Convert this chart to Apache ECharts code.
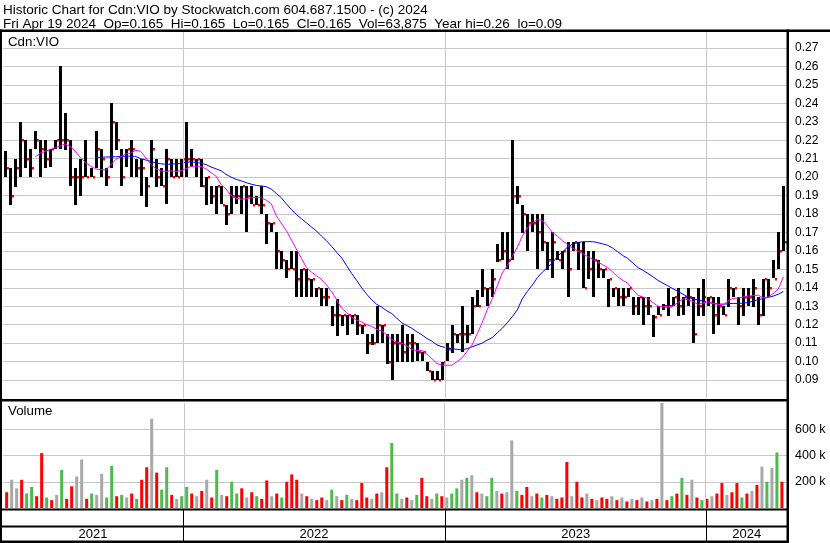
<!DOCTYPE html>
<html><head><meta charset="utf-8">
<script src="https://cdn.jsdelivr.net/npm/echarts@6/dist/echarts.min.js"></script>
<style>html,body{margin:0;padding:0;background:#fff}#c{width:830px;height:543px}</style>
</head><body><div id="c"></div>
<script>
// ---- Data (weekly bars, first week Wed 2021-04-28) ----
const firstWeek = Date.UTC(2021, 3, 28);
const WEEK_MS = 7 * 86400000;
const high = [
.214,.205,.210,.230,.220,.215,.225,.220,.220,.215,
.220,.260,.235,.220,.205,.210,.220,.205,.225,.215,
.205,.240,.230,.215,.215,.220,.210,.210,.200,.220,
.210,.205,.215,.210,.210,.210,.230,.215,.210,.210,
.200,.195,.195,.195,.185,.195,.195,.195,.195,.195,
.190,.195,.180,.175,.170,.160,.155,.160,.160,.150,
.150,.145,.140,.140,.140,.130,.134,.125,.125,.125,
.125,.120,.115,.115,.130,.120,.115,.115,.115,.120,
.115,.115,.110,.105,.100,.095,.095,.100,.110,.120,
.115,.130,.120,.135,.139,.150,.140,.150,.164,.170,
.170,.220,.195,.185,.180,.180,.180,.180,.165,.170,
.160,.160,.165,.165,.165,.165,.160,.160,.155,.150,
.145,.140,.140,.140,.140,.135,.135,.135,.135,.125,
.130,.131,.140,.135,.140,.135,.140,.135,.140,.145,
.135,.135,.135,.130,.145,.140,.135,.140,.140,.145,
.135,.145,.145,.155,.170,.195];
const low = [
.200,.185,.195,.200,.205,.200,.215,.200,.205,.205,
.215,.215,.215,.195,.185,.190,.200,.200,.205,.200,
.195,.205,.215,.195,.205,.200,.200,.190,.184,.200,
.195,.195,.185,.200,.200,.200,.200,.205,.200,.195,
.185,.185,.180,.185,.174,.180,.185,.180,.170,.185,
.185,.180,.164,.170,.150,.150,.145,.150,.135,.135,
.135,.135,.135,.130,.130,.119,.114,.119,.114,.120,
.114,.115,.104,.109,.110,.110,.099,.090,.100,.100,
.100,.100,.100,.100,.095,.090,.090,.090,.100,.105,
.110,.105,.110,.115,.130,.135,.130,.135,.154,.155,
.150,.155,.185,.170,.160,.170,.150,.160,.150,.145,
.155,.150,.135,.160,.150,.140,.145,.135,.145,.145,
.130,.135,.130,.130,.135,.125,.125,.120,.125,.113,
.125,.128,.125,.130,.125,.125,.130,.110,.125,.125,
.130,.115,.120,.125,.130,.135,.120,.125,.130,.130,
.120,.125,.135,.145,.150,.160];
const close = [
.205,.190,.205,.220,.210,.205,.220,.215,.210,.215,
.220,.220,.220,.200,.200,.200,.200,.200,.215,.210,
.200,.230,.220,.200,.215,.215,.205,.205,.195,.215,
.200,.195,.210,.200,.200,.210,.210,.210,.210,.195,
.200,.190,.195,.185,.180,.190,.190,.195,.190,.185,
.185,.185,.175,.175,.160,.155,.150,.150,.145,.150,
.145,.145,.140,.135,.135,.125,.125,.125,.125,.125,
.120,.120,.110,.110,.120,.120,.100,.110,.110,.105,
.110,.110,.105,.105,.095,.090,.090,.100,.107,.115,
.115,.115,.115,.130,.130,.140,.140,.145,.155,.160,
.155,.190,.190,.180,.175,.175,.170,.165,.155,.165,
.155,.160,.150,.165,.160,.140,.150,.155,.150,.150,
.145,.140,.135,.135,.140,.130,.135,.130,.130,.124,
.125,.130,.130,.135,.130,.135,.135,.115,.130,.135,
.135,.125,.130,.125,.140,.140,.130,.135,.135,.140,
.125,.145,.140,.145,.160,.165];
const maShort = [
null,null,null,null,null,null,.211,.213,.214,.215,
.216,.217,.218,.2165,.214,.2105,.208,.206,.2045,.204,
.204,.2065,.2095,.211,.2125,.213,.2145,.214,.2105,.207,
.2045,.2035,.203,.2035,.203,.2035,.2045,.2058,.206,.2058,
.2045,.2025,.2005,.196,.1935,.190,.1885,.188,.1882,.1888,
.189,.1888,.1875,.1855,.179,.175,.171,.166,.161,.156,
.151,.1485,.1465,.1445,.1415,.138,.1335,.129,.1265,.124,
.1225,.1215,.120,.119,.1175,.1165,.1145,.112,.1105,.110,
.1085,.1065,.106,.106,.104,.1015,.099,.098,.098,.098,
.100,.102,.1055,.109,.115,.121,.128,.134,.141,.148,
.152,.157,.162,.168,.1725,.175,.177,.1765,.1735,.170,
.168,.1655,.1635,.1615,.160,.1585,.157,.1555,.154,.1525,
.151,.1485,.146,.144,.1425,.139,.136,.135,.1342,.132,
.130,.1297,.1297,.130,.132,.134,.1335,.1325,.131,.1318,
.1324,.1315,.131,.1306,.133,.1342,.1345,.135,.1355,.1357,
.136,.1345,.135,.137,.1393,.146];
const maLong = [
null,null,null,null,null,null,null,null,null,null,
null,null,null,null,null,null,null,null,.2107,.2108,
.2109,.211,.211,.2112,.2113,.2114,.2112,.210,.2093,.2085,
.2078,.2072,.207,.207,.2072,.2075,.208,.2083,.208,.2075,
.2068,.2055,.2045,.2035,.2015,.200,.1988,.198,.197,.1962,
.1955,.1952,.1948,.1935,.1912,.1888,.1855,.1825,.1797,.1775,
.1752,.173,.1708,.168,.1655,.1625,.1593,.1563,.152,.1478,
.144,.140,.1365,.1335,.131,.1295,.1275,.126,.1235,.121,
.1195,.118,.1161,.1145,.1125,.111,.109,.108,.1075,.107,
.1066,.1062,.107,.108,.109,.110,.1116,.113,.1155,.118,
.121,.1243,.128,.134,.138,.1415,.1455,.1485,.151,.1535,
.157,.1595,.162,.1636,.1645,.165,.165,.165,.1645,.1638,
.163,.1615,.1595,.1575,.1559,.1535,.151,.1495,.1478,.146,
.144,.1425,.141,.1395,.138,.1365,.135,.134,.1333,.1328,
.132,.1315,.1312,.1311,.1313,.1315,.1315,.1317,.132,.1328,
.1335,.1342,.1348,.1355,.1365,.138];
// volume in thousands
const volume = [
120,215,150,215,110,160,90,418,80,60,
100,290,70,165,240,370,70,110,100,260,
80,320,90,100,80,110,70,215,310,680,
270,140,310,100,70,90,160,110,90,130,
215,80,290,100,90,200,110,150,80,120,
90,70,210,90,110,80,200,256,215,110,
90,70,60,80,60,140,90,60,100,70,
60,190,80,70,110,120,310,495,110,70,
80,60,100,230,90,70,110,90,80,110,
150,215,230,250,120,110,90,230,130,110,
120,515,130,100,160,90,110,80,100,90,
70,80,350,90,200,80,110,70,60,80,
70,90,60,80,50,70,60,80,50,60,
70,830,60,90,110,230,100,215,80,60,
70,90,110,190,100,120,190,80,110,130,
175,315,200,305,423,200];
// r = down, g = up, n = unchanged
const volDir = [
'r','n','n','r','g','g','r','r','g','r',
'n','g','r','r','n','n','r','g','n','n',
'g','g','r','g','n','r','g','r','r','n',
'r','g','g','r','n','g','g','r','n','r',
'n','r','g','n','r','g','g','r','n','r',
'g','r','r','n','r','g','r','r','r','n',
'r','n','r','r','n','g','n','r','g','n',
'r','r','r','n','r','n','r','g','g','n',
'r','n','g','r','r','n','g','r','n','g',
'g','n','g','n','r','n','g','g','n','r',
'n','n','g','r','r','n','r','g','r','n',
'r','r','r','n','r','r','n','r','n','r',
'r','n','r','n','r','n','r','n','r','n',
'r','n','r','g','r','g','r','n','r','g',
'r','n','r','r','n','r','r','g','r','n',
'r','n','g','n','g','r'];
const yearNames = ['2021','2022','2023','2024'];
const yearStarts = [Date.UTC(2022,0,1), Date.UTC(2023,0,1), Date.UTC(2024,0,1)];
const axisStart = Date.UTC(2021,3,25), axisEnd = Date.UTC(2024,3,22);
const headerLine1 = 'Historic Chart for Cdn:VIO by Stockwatch.com 604.687.1500 - (c) 2024';
const headerLine2 = 'Fri Apr 19 2024  Op=0.165  Hi=0.165  Lo=0.165  Cl=0.165  Vol=63,875  Year hi=0.26  lo=0.09';

// ---- Build ----
const dates = high.map((_, k) => firstWeek + k * WEEK_MS);
const ohlc = dates.map((d, k) => [d, high[k], low[k], close[k]]);
const VC = { r: '#ff0000', g: '#4cbb4c', n: '#a8a8a8' };
const FONT = '"Liberation Sans", Arial, sans-serif';

function renderItem(params, api) {
  const t = api.value(0);
  const h = api.coord([t, api.value(1)]);
  const l = api.coord([t, api.value(2)]);
  const c = api.coord([t, api.value(3)]);
  const x = Math.round(h[0]);
  return { type: 'group', children: [
    { type: 'rect', shape: { x: x - 1, y: Math.round(h[1]), width: 3, height: Math.max(2, Math.round(l[1] - h[1])) }, style: { fill: '#000' } },
    { type: 'rect', shape: { x: x + 2, y: Math.round(c[1]) - 1, width: 2, height: 2.5 }, style: { fill: '#ff0000' } }
  ]};
}
function yearLine(color) {
  return { silent: true, symbol: 'none', label: { show: false },
    lineStyle: { color: color, type: 'solid', width: 1 },
    data: yearStarts.map(t => ({ xAxis: t })) };
}
const bounds = [axisStart].concat(yearStarts, [axisEnd]);
const yearAreas = yearNames.map((n, i) => [
  { xAxis: bounds[i], yAxis: 0, name: n },
  { xAxis: bounds[i + 1], yAxis: 0.4516 }
]);

const chart = echarts.init(document.getElementById('c'));
const rect = (x, y, w, h) => ({ type: 'rect', shape: { x, y, width: w, height: h }, style: { fill: '#000' }, z: 100, silent: true });
const txt = (x, y, s, fs) => ({ type: 'text', x, y, z: 100, silent: true, style: { text: s, fill: '#000', font: fs + 'px ' + FONT } });

chart.setOption({
  animation: false,
  backgroundColor: '#fff',
  textStyle: { fontFamily: FONT },
  grid: [
    { left: 3, right: 43, top: 29.6, height: 368.8 },
    { left: 3, right: 43, top: 403, height: 105 },
    { left: 3, right: 43, top: 510, height: 31 }
  ],
  xAxis: [0, 1, 2].map(i => ({ type: 'time', gridIndex: i, min: axisStart, max: axisEnd, show: false })),
  yAxis: [
    { type: 'value', gridIndex: 0, position: 'right', min: 0.08, max: 0.28, interval: 0.01,
      axisLine: { show: false }, axisTick: { show: false },
      splitLine: { show: true, showMinLine: false, showMaxLine: false, lineStyle: { color: '#c8c8c8', width: 1 } },
      axisLabel: { margin: 8, color: '#000', fontSize: 12, fontFamily: FONT,
        formatter: v => (v < 0.085 || v > 0.275) ? '' : v.toFixed(2) } },
    { type: 'value', gridIndex: 1, position: 'right', min: 0, max: 800, interval: 200,
      axisLine: { show: false }, axisTick: { show: false },
      splitLine: { show: true, showMinLine: false, showMaxLine: false, lineStyle: { color: '#c8c8c8', width: 1 } },
      axisLabel: { margin: 8, color: '#000', fontSize: 12.5, fontFamily: FONT,
        formatter: v => (v === 0 || v === 800) ? '' : v + ' k' } },
    { type: 'value', gridIndex: 2, min: 0, max: 1, show: false }
  ],
  series: [
    { type: 'line', xAxisIndex: 0, yAxisIndex: 0, data: [], markLine: yearLine('#c8c8c8'), z: 1 },
    { type: 'custom', xAxisIndex: 0, yAxisIndex: 0, data: ohlc, encode: { x: 0, y: [1, 2, 3] }, renderItem, clip: true, z: 3, silent: true },
    { type: 'line', xAxisIndex: 0, yAxisIndex: 0, data: dates.map((d, i) => [d, maLong[i]]), showSymbol: false,
      lineStyle: { color: '#0000ff', width: 1 }, itemStyle: { color: '#0000ff' }, z: 4, silent: true },
    { type: 'line', xAxisIndex: 0, yAxisIndex: 0, data: dates.map((d, i) => [d, maShort[i]]), showSymbol: false,
      lineStyle: { color: '#ff00ff', width: 1 }, itemStyle: { color: '#ff00ff' }, z: 5, silent: true },
    { type: 'bar', xAxisIndex: 1, yAxisIndex: 1, barWidth: 3, silent: true, z: 3,
      data: dates.map((d, i) => ({ value: [d, volume[i]], itemStyle: { color: VC[volDir[i]] } })),
      markLine: yearLine('#c8c8c8') },
    { type: 'line', xAxisIndex: 2, yAxisIndex: 2, data: [], silent: true,
      markLine: yearLine('#000'),
      markArea: { silent: true, itemStyle: { color: 'rgba(0,0,0,0)' },
        label: { show: true, position: 'inside', color: '#000', fontSize: 13, fontFamily: FONT },
        data: yearAreas } }
  ],
  graphic: [
    rect(0, 29.5, 830, 2.5),
    rect(0, 399, 787, 2.5),
    rect(0, 508.5, 787, 2),
    rect(0, 525.5, 787, 2),
    rect(0, 540.5, 787, 2.5),
    rect(0, 29.5, 2, 513.5),
    rect(786.5, 29.5, 2.5, 513.5),
    txt(3, 3, headerLine1, 13.5),
    txt(3, 17, headerLine2, 13.5),
    txt(8, 35.5, 'Cdn:VIO', 13.3),
    txt(8, 405, 'Volume', 13.3)
  ]
});
</script>
</body></html>
